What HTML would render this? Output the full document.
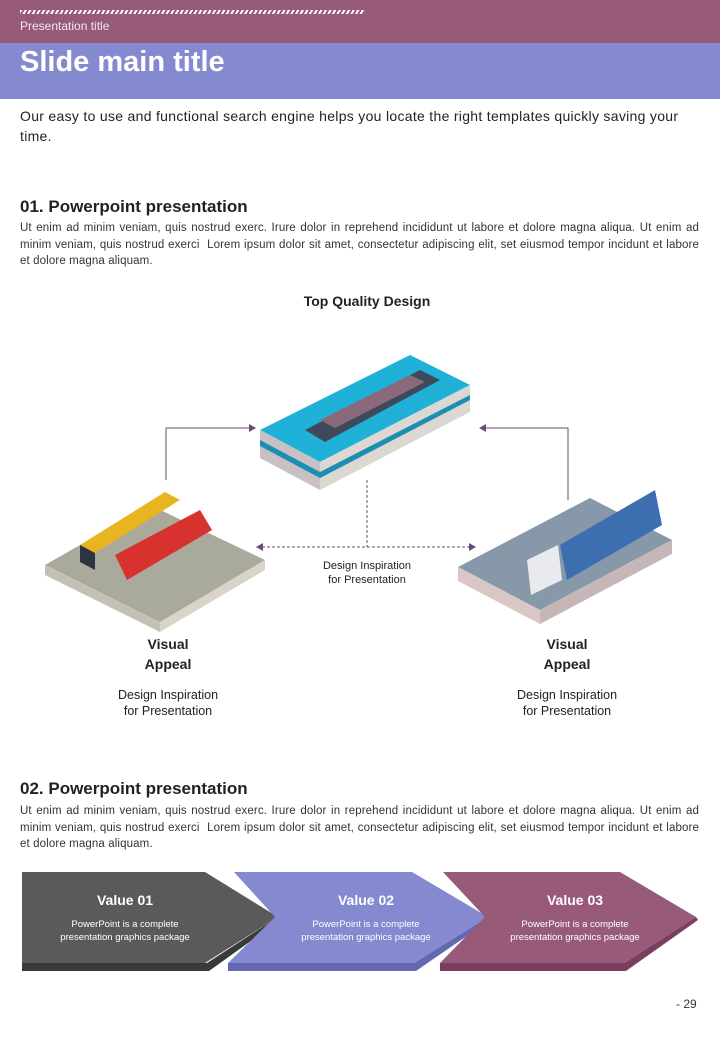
<!DOCTYPE html>
<html><head><meta charset="utf-8"><style>
body{margin:0;width:720px;height:1040px;background:#fff;font-family:"Liberation Sans",sans-serif;position:relative;overflow:hidden;color:#222}
.a{position:absolute}
.p{font-size:11.5px;line-height:16.5px;text-align:justify;left:20px;width:679px;color:#333;letter-spacing:0.12px}
h2{margin:0;font-size:17px;font-weight:bold;color:#222}
</style></head><body>
<div class="a" style="left:0;top:0;width:720px;height:43px;background:#985a79"></div>
<div class="a" style="left:20px;top:10px;width:344px;height:4px;background:repeating-linear-gradient(120deg,#fff 0 2px,transparent 2px 4px)"></div>
<div class="a" style="left:20px;top:19px;font-size:12px;color:#f3e6ee">Presentation title</div>
<div class="a" style="left:0;top:43px;width:720px;height:56px;background:#8589d0"></div>
<div class="a" style="left:20px;top:46px;font-size:29px;font-weight:bold;color:#fff">Slide main title</div>
<div class="a" style="left:20px;top:106px;width:680px;font-size:14px;line-height:20px;color:#222;letter-spacing:0.3px">Our easy to use and functional search engine helps you locate the right templates quickly saving your time.</div>
<div class="a" style="left:20px;top:197px"><h2>01. Powerpoint presentation</h2></div>
<div class="a p" style="top:220px">Ut enim ad minim veniam, quis nostrud exerc. Irure dolor in reprehend incididunt ut labore et dolore magna aliqua. Ut enim ad minim veniam, quis nostrud exerci&nbsp; Lorem ipsum dolor sit amet, consectetur adipiscing elit, set eiusmod tempor incidunt et labore et dolore magna aliquam.</div>
<div class="a" style="left:0;width:734px;top:293px;text-align:center;font-size:14px;font-weight:bold">Top Quality Design</div>
<svg class="a" style="left:0;top:0" width="720" height="1040">
<g fill="none" stroke="#6a4a7a" stroke-width="1">
<path d="M166 480V428H250"/><path d="M568 500V428H485"/>
<path d="M367 480V547" stroke-dasharray="3,2"/><path d="M262 547H470" stroke-dasharray="3,2"/>
</g>
<g fill="#6a4a7a"><path d="M256 428l-7-4v8z"/><path d="M479 428l7-4v8z"/><path d="M256 547l7-4v8z"/><path d="M476 547l-7-4v8z"/></g>
<polygon points="260,430 410,355 470,385 320,462" fill="#1fb1d8"/>
<polygon points="260,430 320,462 320,490 260,458" fill="#c9c0c6"/>
<polygon points="320,462 470,385 470,412 320,490" fill="#dcd7d0"/>
<polygon points="260,440 320,472 470,395 470,400 320,478 260,446" fill="#1a8fb1"/>
<polygon points="305,430 420,370 440,380 325,442" fill="#3e4a5a"/>
<polygon points="320,420 410,375 425,382 335,428" fill="#8a6a7a"/>
<polygon points="45,565 150,505 265,560 160,622" fill="#a9aa9c"/>
<polygon points="45,565 160,622 160,632 45,575" fill="#c5c0b5"/>
<polygon points="160,622 265,560 265,570 160,632" fill="#d9d3c8"/>
<polygon points="80,545 165,492 180,500 95,553" fill="#e8b520"/>
<polygon points="80,545 95,553 95,570 80,562" fill="#2c3440"/>
<polygon points="115,555 200,510 212,530 127,580" fill="#d8322f"/>
<polygon points="458,567 590,498 672,540 540,610" fill="#8798a8"/>
<polygon points="458,567 540,610 540,624 458,581" fill="#d8c7c5"/>
<polygon points="540,610 672,540 672,554 540,624" fill="#c7b6b8"/>
<polygon points="560,545 655,490 662,525 567,580" fill="#3d6fb0"/>
<polygon points="527,560 558,545 562,580 531,595" fill="#e8eaee"/>
<polygon points="22,963 207,963 278,917 280,920 209,971 22,971" fill="#3a3a3a"/>
<polygon points="22,872 205,872 278,917 205,963 22,963" fill="#5a5a5a"/>
<polygon points="228,963 414,963 488,917 490,920 416,971 228,971" fill="#6468b0"/>
<polygon points="234,872 412,872 488,917 414,963 228,963 275,917" fill="#8589d0"/>
<polygon points="440,963 624,963 696,917 698,920 626,971 440,971" fill="#7a3f5e"/>
<polygon points="443,872 620,872 696,917 624,963 440,963 485,917" fill="#985a79"/>
</svg>
<div class="a" style="left:297px;top:559px;width:140px;text-align:center;font-size:11px;line-height:14px">Design Inspiration<br>for Presentation</div>
<div class="a" style="left:88px;top:634px;width:160px;text-align:center;font-size:14px;line-height:20px;font-weight:bold">Visual<br>Appeal</div>
<div class="a" style="left:88px;top:687px;width:160px;text-align:center;font-size:12.5px;line-height:16px">Design Inspiration<br>for Presentation</div>
<div class="a" style="left:487px;top:634px;width:160px;text-align:center;font-size:14px;line-height:20px;font-weight:bold">Visual<br>Appeal</div>
<div class="a" style="left:487px;top:687px;width:160px;text-align:center;font-size:12.5px;line-height:16px">Design Inspiration<br>for Presentation</div>
<div class="a" style="left:20px;top:779px"><h2>02. Powerpoint presentation</h2></div>
<div class="a p" style="top:803px">Ut enim ad minim veniam, quis nostrud exerc. Irure dolor in reprehend incididunt ut labore et dolore magna aliqua. Ut enim ad minim veniam, quis nostrud exerci&nbsp; Lorem ipsum dolor sit amet, consectetur adipiscing elit, set eiusmod tempor incidunt et labore et dolore magna aliquam.</div>
<div class="a" style="left:45px;top:892px;width:160px;text-align:center;color:#fff"><div style="font-size:14px;font-weight:bold">Value 01</div><div style="font-size:9.5px;line-height:13px;margin-top:10px">PowerPoint is a complete presentation graphics package</div></div>
<div class="a" style="left:286px;top:892px;width:160px;text-align:center;color:#fff"><div style="font-size:14px;font-weight:bold">Value 02</div><div style="font-size:9.5px;line-height:13px;margin-top:10px">PowerPoint is a complete presentation graphics package</div></div>
<div class="a" style="left:495px;top:892px;width:160px;text-align:center;color:#fff"><div style="font-size:14px;font-weight:bold">Value 03</div><div style="font-size:9.5px;line-height:13px;margin-top:10px">PowerPoint is a complete presentation graphics package</div></div>
<div class="a" style="left:676px;top:997px;font-size:12px;color:#333">- 29</div>
</body></html>
